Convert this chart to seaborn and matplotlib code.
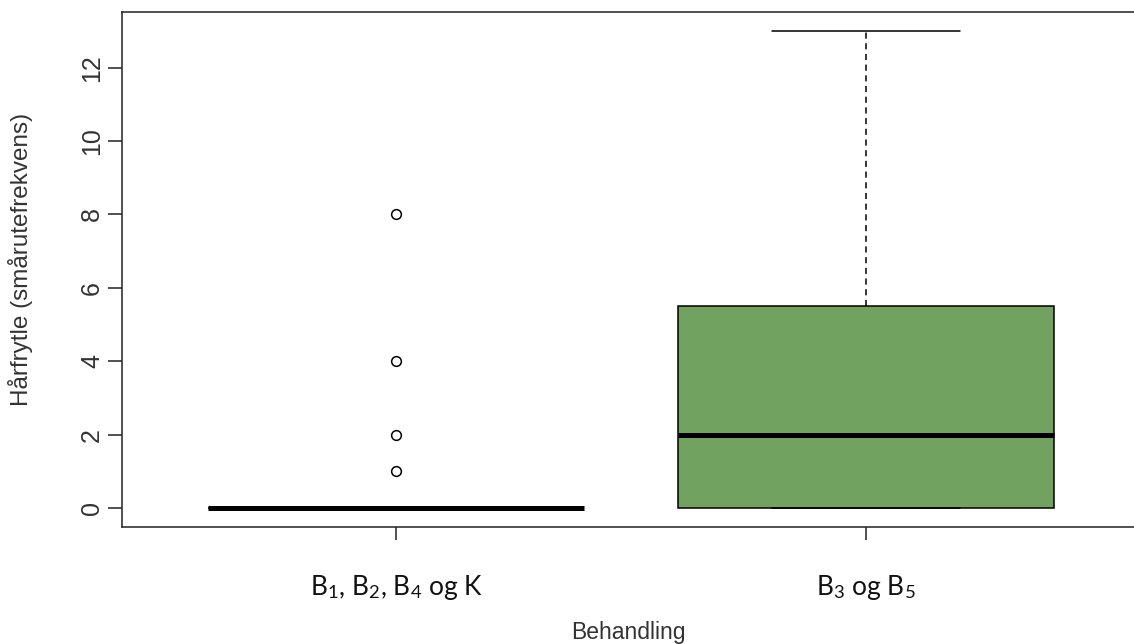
import matplotlib
matplotlib.use("Agg")
import matplotlib.pyplot as plt
import pandas as pd
import seaborn as sns

# Data: hårfrytle (smårutefrekvens) per behandlingsgruppe
groups = ["B1, B2, B4 og K", "B3 og B5"]
group1_values = [0] * 20 + [1, 2, 4, 8]
group2_values = [0, 0, 0, 0, 1, 2, 3, 5, 6, 9, 13]
tick_labels = [r"B$_\mathrm{1}$, B$_\mathrm{2}$, B$_\mathrm{4}$ og K",
               r"B$_\mathrm{3}$ og B$_\mathrm{5}$"]
box_colors = ["white", "#71a25f"]
y_ticks = [0, 2, 4, 6, 8, 10, 12]

df = pd.DataFrame({
    "Behandling": [groups[0]] * len(group1_values) + [groups[1]] * len(group2_values),
    "Hårfrytle": group1_values + group2_values,
})

sns.set_theme(style="ticks")
plt.rcParams["font.family"] = ["Liberation Sans", "DejaVu Sans"]
plt.rcParams["mathtext.fontset"] = "custom"
plt.rcParams["mathtext.rm"] = "Lato"
plt.rcParams["mathtext.it"] = "Lato:italic"

fig = plt.figure(figsize=(11.34, 6.44), dpi=100)
ax = fig.add_axes([122 / 1134, 1 - 527 / 644, 1 - 122 / 1134, 515 / 644])

sns.boxplot(data=df, x="Behandling", y="Hårfrytle", hue="Behandling",
            palette=box_colors, legend=False, width=0.8, whis=1.5,
            linecolor="black", linewidth=1.1, saturation=1, ax=ax,
            medianprops={"color": "black", "linewidth": 3.6},
            whiskerprops={"linestyle": (0, (4, 3)), "linewidth": 1.1},
            capprops={"linewidth": 1.1},
            flierprops={"marker": "o", "markerfacecolor": "none",
                        "markeredgecolor": "black", "markersize": 7,
                        "markeredgewidth": 1.1})

ax.set_xlim(-0.583, 1.57)
ax.set_ylim(-0.52, 13.52)
ax.set_yticks(y_ticks)
ax.set_yticklabels([str(v) for v in y_ticks], fontsize=18, color="#333333")
plt.setp(ax.get_yticklabels(), rotation=90, va="center")
ax.set_xticks([0, 1])
ax.set_xticklabels(tick_labels, fontsize=19, color="#111111", fontfamily="Lato")

ax.tick_params(axis="y", length=10, width=1.1, pad=3, color="#222222")
ax.tick_params(axis="x", length=9, width=1.1, pad=24, color="#222222")

for side in ["left", "top", "bottom"]:
    ax.spines[side].set_linewidth(1.1)
    ax.spines[side].set_color("#222222")
ax.spines["right"].set_visible(False)

ax.set_ylabel("Hårfrytle (smårutefrekvens)", fontsize=17.5, color="#333333")
ax.set_xlabel("Behandling", fontsize=16.5, color="#333333", labelpad=14)
ax.yaxis.set_label_coords(-0.088, 0.52)

fig.savefig("out.png", dpi=100)
